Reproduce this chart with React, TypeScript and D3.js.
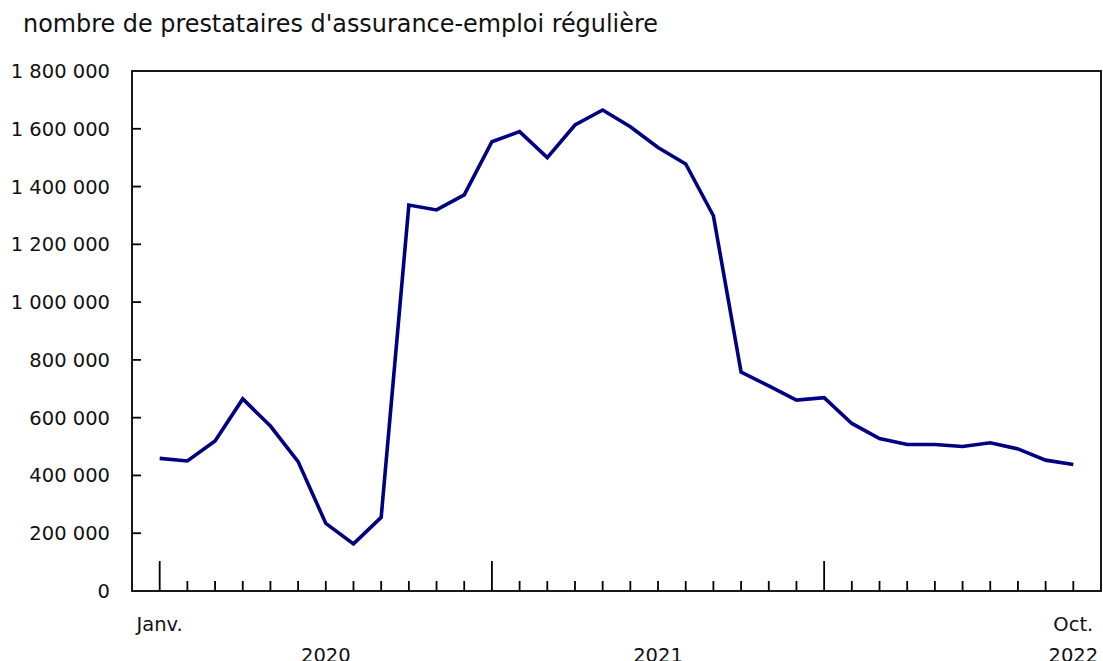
import * as d3 from "d3";
import { useEffect, useRef } from "react";

const months = [
  "2020-01", "2020-02", "2020-03", "2020-04", "2020-05", "2020-06",
  "2020-07", "2020-08", "2020-09", "2020-10", "2020-11", "2020-12",
  "2021-01", "2021-02", "2021-03", "2021-04", "2021-05", "2021-06",
  "2021-07", "2021-08", "2021-09", "2021-10", "2021-11", "2021-12",
  "2022-01", "2022-02", "2022-03", "2022-04", "2022-05", "2022-06",
  "2022-07", "2022-08", "2022-09", "2022-10",
];

const beneficiaries = [
  459000, 450000, 519000, 665000, 571000, 448000,
  234000, 163000, 255000, 1336000, 1319000, 1371000,
  1555000, 1590000, 1500000, 1613000, 1665000, 1607000,
  1535000, 1478000, 1299000, 758000, 710000, 661000,
  669000, 580000, 528000, 507000, 507000, 500000,
  513000, 492000, 453000, 438000,
];

const yTicks = [0, 200000, 400000, 600000, 800000, 1000000, 1200000, 1400000, 1600000, 1800000];
const monthLabels = [
  { month: "2020-01", label: "Janv." },
  { month: "2022-10", label: "Oct." },
];
const yearLabels = [
  { from: "2020-01", to: "2021-01", label: "2020" },
  { from: "2021-01", to: "2022-01", label: "2021" },
  { from: "2022-10", to: "2022-10", label: "2022" },
];
const title = "nombre de prestataires d'assurance-emploi régulière";

export default function App() {
  const ref = useRef<SVGSVGElement | null>(null);
  const width = 1103;
  const height = 661;
  const marginLeft = 132;
  const marginRight = 2;
  const marginTop = 71;
  const marginBottom = 70;

  useEffect(() => {
    const svg = d3.select(ref.current);
    svg.selectAll("*").remove();

    const font = "Verdana, 'DejaVu Sans', sans-serif";
    const labelSize = 19.5;
    const innerWidth = width - marginLeft - marginRight;
    const innerHeight = height - marginTop - marginBottom;

    const g = svg
      .append("g")
      .attr("transform", `translate(${marginLeft},${marginTop})`);

    const x = d3.scalePoint<string>().domain(months).range([0, innerWidth]).padding(1);
    const y = d3.scaleLinear().domain([0, 1800000]).range([innerHeight, 0]);

    // title
    svg
      .append("text")
      .attr("x", 23)
      .attr("y", 32)
      .attr("font-family", font)
      .attr("font-size", 23.9)
      .attr("fill", "#111")
      .text(title);

    // frame
    g.append("rect")
      .attr("x", 0)
      .attr("y", 0)
      .attr("width", innerWidth)
      .attr("height", innerHeight)
      .attr("fill", "none")
      .attr("stroke", "#000")
      .attr("stroke-width", 1.8);

    // y ticks (inward) + labels
    const fmt = (v: number) => d3.format(",")(v).replace(/,/g, " ");
    yTicks.forEach((t) => {
      if (t !== 0 && t !== 1800000) {
        g.append("line")
          .attr("x1", 0)
          .attr("x2", 9)
          .attr("y1", y(t))
          .attr("y2", y(t))
          .attr("stroke", "#000")
          .attr("stroke-width", 1.8);
      }
      g.append("text")
        .attr("x", -22)
        .attr("y", y(t))
        .attr("dy", "0.36em")
        .attr("text-anchor", "end")
        .attr("font-family", font)
        .attr("font-size", labelSize)
        .attr("fill", "#111")
        .text(fmt(t));
    });

    // x ticks (upward): long at January
    months.forEach((m) => {
      const major = m.endsWith("-01");
      g.append("line")
        .attr("x1", x(m)!)
        .attr("x2", x(m)!)
        .attr("y1", innerHeight)
        .attr("y2", innerHeight - (major ? 30 : 10))
        .attr("stroke", "#000")
        .attr("stroke-width", 1.8);
    });

    monthLabels.forEach((d) => {
      g.append("text")
        .attr("x", x(d.month)!)
        .attr("y", innerHeight + 40)
        .attr("text-anchor", "middle")
        .attr("font-family", font)
        .attr("font-size", labelSize)
        .attr("fill", "#111")
        .text(d.label);
    });

    yearLabels.forEach((d) => {
      g.append("text")
        .attr("x", (x(d.from)! + x(d.to)!) / 2)
        .attr("y", innerHeight + 71)
        .attr("text-anchor", "middle")
        .attr("font-family", font)
        .attr("font-size", labelSize)
        .attr("fill", "#111")
        .text(d.label);
    });

    // line
    const line = d3
      .line<number>()
      .x((_, i) => x(months[i])!)
      .y((d) => y(d));

    g.append("path")
      .datum(beneficiaries)
      .attr("fill", "none")
      .attr("stroke", "#000080")
      .attr("stroke-width", 3.6)
      .attr("stroke-linejoin", "miter")
      .attr("d", line);
  }, []);

  return (
    <div style={{ position: "absolute", left: 0, top: 0, background: "#fff" }}>
      <svg ref={ref} width={width} height={height} style={{ display: "block" }}>
        <title>Prestataires d'assurance-emploi régulière</title>
      </svg>
    </div>
  );
}
